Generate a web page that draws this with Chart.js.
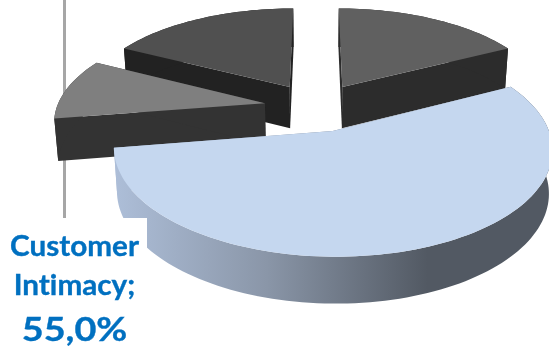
<!DOCTYPE html>
<html>
<head>
<meta charset="utf-8">
<title>Customer Intimacy</title>
<script src="https://cdn.jsdelivr.net/npm/chart.js@4/dist/chart.umd.min.js"></script>
<style>
  html, body { margin: 0; padding: 0; background: #fff; overflow: hidden; }
  #wrap { position: relative; width: 549px; height: 347px; }
  #axis-line { position: absolute; left: 63px; top: 0; width: 3px; height: 218px; background: #a6a6a6; }
  canvas { position: absolute; left: 0; top: 0; }
  #label {
    position: absolute; left: 0; top: 218px; width: 147px; height: 129px;
    background: #fff; color: #0070c0; text-align: center;
    font-family: Lato, sans-serif; font-weight: 700;
    font-variant-ligatures: none; -webkit-text-stroke: 0.35px #0070c0;
  }
  #label div { position: absolute; left: 0; width: 149px; white-space: nowrap; }
  #label .name { font-size: 28px; line-height: 38px; transform: scaleX(1.06); }
  #label .value { font-size: 32px; line-height: 40px; transform: scaleX(1.18); }
</style>
</head>
<body>
<div id="wrap">
  <div id="axis-line"></div>
  <canvas id="pie" width="549" height="347"></canvas>
  <div id="label">
    <div class="name" id="label-1" style="top:8px"></div>
    <div class="name" id="label-2" style="top:47px"></div>
    <div class="value" id="label-3" style="top:91px"></div>
  </div>
</div>
<script>
'use strict';

const categories = ['Segment A', 'Customer Intimacy', 'Segment B', 'Segment C'];
const shares = [17.5, 55, 10, 17.5];
const topColors = ['#606060', '#c5d7ef', '#7f7f7f', '#505050'];
const wallColors = ['#2c2c2c', null, '#333333', '#222222'];

// Tilted view of the pie plane
const view = { cx: 316, cy: 107, rx: 208, ry: 97, persp: 0.16, depth: 42, shrink: 0.985 };
const explode = 0.25;
const paintOrder = [3, 0, 2, 1];

function project(x, y, bottom) {
  const w = 1 + view.persp * y;
  const sx = view.rx * x / w;
  const sy = view.cy - view.ry * y / w;
  if (!bottom) return [view.cx + sx, sy];
  return [view.cx + sx * view.shrink, sy + view.depth / Math.sqrt(w)];
}

function rimPoints(arc, bottom) {
  const a0 = arc.startAngle + Math.PI / 2;
  const a1 = arc.endAngle + Math.PI / 2;
  const mid = (a0 + a1) / 2;
  const ox = explode * Math.sin(mid);
  const oy = explode * Math.cos(mid);
  const steps = Math.ceil((a1 - a0) / 0.03);
  const pts = [];
  for (let i = 0; i <= steps; i++) {
    const a = a0 + (a1 - a0) * i / steps;
    pts.push(project(ox + Math.sin(a), oy + Math.cos(a), bottom));
  }
  return { pts, apex: project(ox, oy, bottom) };
}

function fillPoly(ctx, pts, color) {
  ctx.beginPath();
  pts.forEach((p, i) => i ? ctx.lineTo(p[0], p[1]) : ctx.moveTo(p[0], p[1]));
  ctx.closePath();
  ctx.fillStyle = color;
  ctx.fill();
}

// Draws the pie arcs as extruded wedges in place of the flat ones
const tiltedPie = {
  id: 'tiltedPie',
  beforeDatasetsDraw(chart) {
    const ctx = chart.ctx;
    const arcs = chart.getDatasetMeta(0).data;
    paintOrder.forEach(i => {
      const top = rimPoints(arcs[i], false);
      const low = rimPoints(arcs[i], true);
      let wall = wallColors[i];
      if (!wall) {
        wall = ctx.createLinearGradient(115, 0, 549, 0);
        wall.addColorStop(0, '#adbed8');
        wall.addColorStop(0.35, '#8a96a8');
        wall.addColorStop(0.72, '#525963');
        wall.addColorStop(1, '#525963');
      }
      const n = top.pts.length - 1;
      fillPoly(ctx, [top.apex, top.pts[0], low.pts[0], low.apex], wall);
      fillPoly(ctx, [top.apex, top.pts[n], low.pts[n], low.apex], wall);
      fillPoly(ctx, top.pts.concat(low.pts.slice().reverse()), wall);
      fillPoly(ctx, [top.apex].concat(top.pts), topColors[i]);
    });
    return false;
  }
};

new Chart(document.getElementById('pie'), {
  type: 'pie',
  data: {
    labels: categories,
    datasets: [{ data: shares, backgroundColor: topColors, borderWidth: 0 }]
  },
  options: {
    responsive: false,
    animation: false,
    rotation: 0,
    plugins: { legend: { display: false }, tooltip: { enabled: false } }
  },
  plugins: [tiltedPie]
});

// Data label of the large slice
const words = categories[1].split(' ');
document.getElementById('label-1').textContent = words[0];
document.getElementById('label-2').textContent = words[1] + ';';
document.getElementById('label-3').textContent = shares[1].toFixed(1).replace('.', ',') + '%';
</script>
</body>
</html>
